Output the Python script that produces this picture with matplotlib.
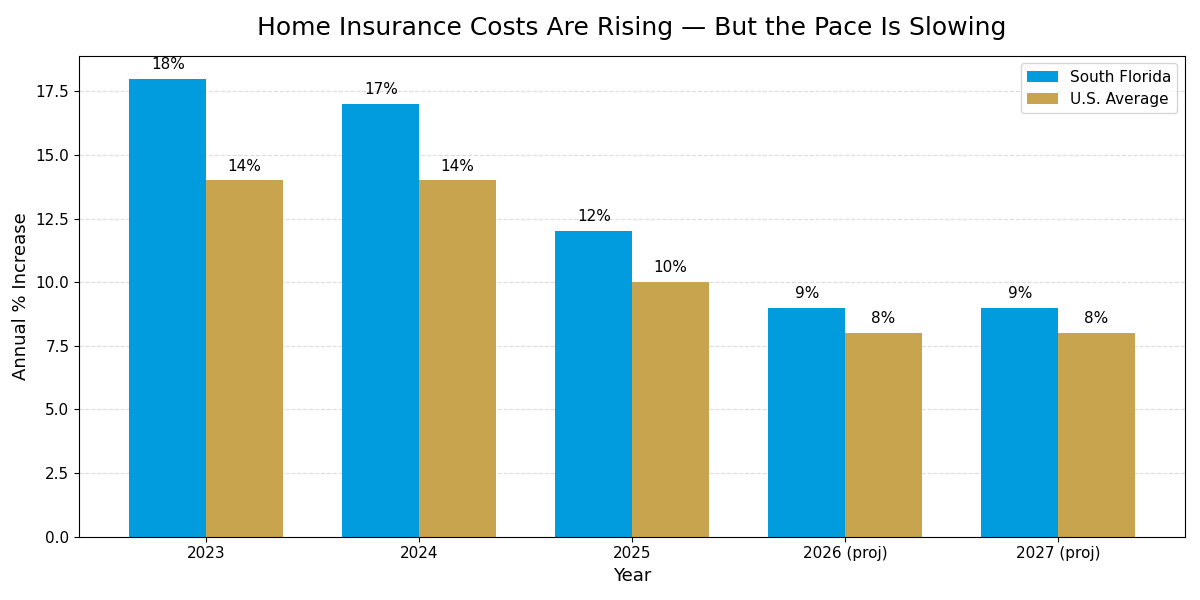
import matplotlib
matplotlib.use("Agg")
import matplotlib.pyplot as plt
import numpy as np

years = ["2023", "2024", "2025", "2026 (proj)", "2027 (proj)"]
south_florida = [18, 17, 12, 9, 9]
us_average = [14, 14, 10, 8, 8]

fig, ax = plt.subplots(figsize=(12, 6), dpi=100)
x = np.arange(len(years))
w = 0.36

b1 = ax.bar(x - w / 2, south_florida, w, color="#009CDE", label="South Florida", zorder=2)
b2 = ax.bar(x + w / 2, us_average, w, color="#C8A44F", label="U.S. Average", zorder=2)

for bars in (b1, b2):
    for b in bars:
        ax.annotate(f"{b.get_height():.0f}%", (b.get_x() + b.get_width() / 2, b.get_height()),
                    xytext=(0, 5), textcoords="offset points", ha="center", va="bottom", fontsize=11)

ax.set_xticks(x)
ax.set_xticklabels(years, fontsize=11)
ax.tick_params(axis="y", labelsize=11)
ax.set_xlabel("Year", fontsize=13)
ax.set_ylabel("Annual % Increase", fontsize=13)
ax.set_title("Home Insurance Costs Are Rising — But the Pace Is Slowing", fontsize=18, pad=15)
ax.yaxis.grid(True, linestyle="--", color="#dddddd", zorder=0)
ax.set_axisbelow(True)
ax.set_ylim(0, 18.9)
ax.legend(loc="upper right", fontsize=11)

fig.tight_layout()
fig.subplots_adjust(left=0.066, top=0.907)
fig.savefig("out.png", dpi=100)
